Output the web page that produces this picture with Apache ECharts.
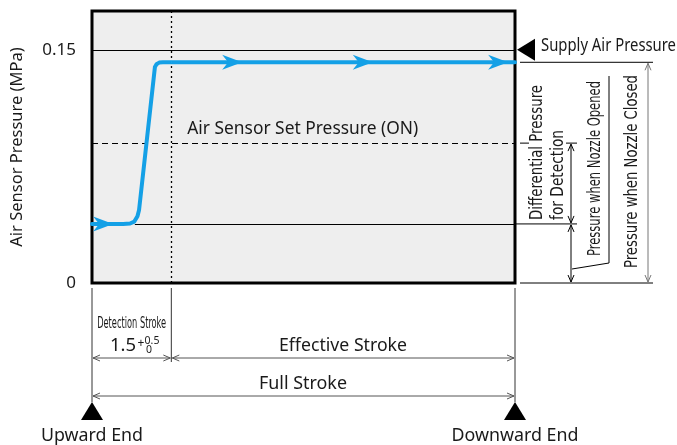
<!DOCTYPE html>
<html>
<head>
<meta charset="utf-8">
<script src="https://cdn.jsdelivr.net/npm/echarts@6/dist/echarts.min.js"></script>
<style>
  html, body { margin: 0; padding: 0; background: #fff; }
  #chart { width: 677px; height: 445px; }
</style>
</head>
<body>
<div id="chart"></div>
<script>
// Piston stroke (mm) and air sensor pressure (MPa) along the travel
const strokeMm    = [0, 0.59, 0.72, 0.80, 0.86, 0.89, 1.19, 1.22, 1.27, 1.34, 8.0];
const pressureMPa = [0.038, 0.038, 0.0383, 0.0395, 0.043, 0.047, 0.139, 0.1408, 0.1418, 0.142, 0.142];

// Flow-direction arrowheads on the curve (tip positions)
const arrowStroke   = [0.40, 2.84, 5.31, 7.87];
const arrowPressure = [0.038, 0.142, 0.142, 0.142];

// Reference levels
const supplyPressure  = 0.15;
const setPressureOn   = 0.09;
const closedPressure  = 0.142;
const openedPressure  = 0.038;
const openedLineStart = 0.81;
const detectionStroke = 1.5;
const fullStroke      = 8;
const pressureMax     = 0.175;

// Axis tick labels
const yTickValues = [0, 0.15];
const yTickLabels = ['0', '0.15'];

const BLUE = '#14a0e6';
const INK = '#1a1a1a';
const DIM = '#555';
const FONT = '"Noto Sans", "Open Sans", sans-serif';
const NARROW = '"Liberation Sans Narrow", "DejaVu Sans Condensed", "Noto Sans", sans-serif';

const chart = echarts.init(document.getElementById('chart'), null, { renderer: 'canvas' });

chart.setOption({
  animation: false,
  grid: {
    left: 92, right: 162, top: 11, bottom: 162,
    show: true, backgroundColor: '#eeeeee', borderColor: '#000', borderWidth: 3
  },
  xAxis: {
    type: 'value', min: 0, max: fullStroke,
    axisLine: { show: false }, axisTick: { show: false },
    axisLabel: { show: false }, splitLine: { show: false }
  },
  yAxis: {
    type: 'value', min: 0, max: pressureMax,
    name: 'Air Sensor Pressure (MPa)', nameLocation: 'middle', nameGap: 66,
    nameTextStyle: { fontFamily: FONT, fontSize: 16.5, color: INK },
    axisLine: { show: false }, axisTick: { show: false }, splitLine: { show: false },
    axisLabel: {
      customValues: yTickValues,
      formatter: v => yTickLabels[yTickValues.indexOf(v)] ?? '',
      fontFamily: FONT, fontSize: 17, color: INK, margin: 16
    }
  },
  series: [
    {
      // reference levels inside the plot
      type: 'line', data: [], z: 1,
      markLine: {
        silent: true, symbol: ['none', 'none'], label: { show: false },
        data: [
          [{ coord: [0, supplyPressure], lineStyle: { color: '#000', width: 1, type: 'solid' } },
           { coord: [fullStroke, supplyPressure] }],
          [{ coord: [0, setPressureOn], lineStyle: { color: '#000', width: 1.2, type: [6, 4] } },
           { coord: [fullStroke, setPressureOn] }],
          [{ coord: [openedLineStart, openedPressure], lineStyle: { color: '#000', width: 1, type: 'solid' } },
           { coord: [fullStroke, openedPressure] }],
          [{ coord: [detectionStroke, 0], lineStyle: { color: '#000', width: 1.3, type: [2, 3] } },
           { coord: [detectionStroke, pressureMax] }]
        ]
      }
    },
    {
      type: 'line', z: 5,
      data: strokeMm.map((x, i) => [x, pressureMPa[i]]),
      showSymbol: false, symbol: 'none',
      lineStyle: { color: BLUE, width: 4, join: 'round', cap: 'round' }
    },
    {
      // swept arrowheads, tip at the data point
      type: 'custom', z: 6,
      data: arrowStroke.map((x, i) => [x, arrowPressure[i]]),
      renderItem: (params, api) => {
        const p = api.coord([api.value(0), api.value(1)]);
        const L = 20, W = 7.5, N = 6;
        return {
          type: 'polygon',
          shape: { points: [[p[0], p[1]], [p[0] - L, p[1] - W], [p[0] - L + N, p[1]], [p[0] - L, p[1] + W]] },
          style: { fill: BLUE }
        };
      }
    }
  ]
});

// Annotations around the plot, positioned through the grid's coordinate system
const P = (x, y) => chart.convertToPixel({ gridIndex: 0 }, [x, y]);
const g = [];
const measureCtx = document.createElement('canvas').getContext('2d');

function seg(pts, color, width, dash) {
  g.push({ type: 'polyline', silent: true, z: 10,
    shape: { points: pts },
    style: { stroke: color || '#000', lineWidth: width || 1, lineDash: dash || null, fill: null } });
}
function head(x, y, dir, color) {
  const L = 7, W = 3;
  let pts;
  if (dir === 'up') pts = [[x - W, y + L], [x, y], [x + W, y + L]];
  else if (dir === 'down') pts = [[x - W, y - L], [x, y], [x + W, y - L]];
  else if (dir === 'left') pts = [[x + L, y - W], [x, y], [x + L, y + W]];
  else pts = [[x - L, y - W], [x, y], [x - L, y + W]];
  seg(pts, color, 1);
}
function dimV(x, y1, y2, color) { seg([[x, y1], [x, y2]], color); head(x, y1, 'up', color); head(x, y2, 'down', color); }
function dimH(y, x1, x2, color) { seg([[x1, y], [x2, y]], color); head(x1, y, 'left', color); head(x2, y, 'right', color); }
function tri(pts) { g.push({ type: 'polygon', silent: true, z: 10, shape: { points: pts }, style: { fill: '#000' } }); }

// text label; when a width is given the glyphs are compressed horizontally to fit it
function label(x, y, text, size, opt) {
  opt = opt || {};
  const family = opt.family || FONT;
  let sx = 1;
  if (opt.width) {
    measureCtx.font = size + 'px ' + family;
    sx = opt.width / measureCtx.measureText(text).width;
  }
  g.push({ type: 'text', silent: true, z: 11, x: x, y: y,
    rotation: opt.rot || 0, scaleX: sx,
    style: { text: text, fontFamily: family, fontSize: size, fill: INK,
      align: opt.align || 'center', verticalAlign: opt.va || 'middle' } });
}

const x0 = P(0, 0)[0];
const xd = P(detectionStroke, 0)[0];
const xf = P(fullStroke, 0)[0];
const y0 = P(0, 0)[1];
const ySup = P(0, supplyPressure)[1];
const ySet = P(0, setPressureOn)[1];
const yClosed = P(0, closedPressure)[1];
const yOpen = P(0, openedPressure)[1];

// set pressure label
label(P(1.8, 0)[0], ySet - 14, 'Air Sensor Set Pressure (ON)', 17.5, { align: 'left', width: 231 });

// supply pressure marker
tri([[xf + 2, ySup], [xf + 20, ySup - 11], [xf + 20, ySup + 11]]);
label(xf + 26, ySup - 4, 'Supply Air Pressure', 17.5, { align: 'left', width: 135 });

// extension lines to the right (the set-pressure one stops short of the rotated text)
seg([[xf + 5, yClosed], [xf + 138, yClosed]], '#000');
seg([[xf + 5, ySet], [xf + 14, ySet]], '#000');
seg([[xf + 51, ySet], [xf + 62, ySet]], '#000');
seg([[xf, yOpen], [xf + 62, yOpen]], '#000');
seg([[xf + 5, y0], [xf + 138, y0]], '#000');

// pressure dimensions
const xDiff = xf + 56;
dimV(xDiff, ySet + 1, yOpen - 1, '#000');
dimV(xDiff, yOpen + 1, y0 - 1, '#000');
dimV(xf + 133, yClosed + 1, y0 - 1, '#777');
seg([[xDiff + 1, y0 - 14], [xf + 94, y0 - 20], [xf + 94, 76]], '#000');

const rot = Math.PI / 2;
label(xf + 23, yOpen - 4, 'Differential Pressure', 17, { rot, align: 'left', family: NARROW, width: 135 });
label(xf + 44, yOpen - 4, 'for Detection', 17, { rot, align: 'left', family: NARROW, width: 90 });
label(xf + 80, y0 - 27, 'Pressure when Nozzle Opened', 17.5, { rot, align: 'left', family: NARROW, width: 175 });
label(xf + 117, y0 - 15, 'Pressure when Nozzle Closed', 17.5, { rot, align: 'left', family: NARROW, width: 193 });

// stroke extension lines and dimensions below
seg([[x0, y0 + 5], [x0, y0 + 119]], '#333');
seg([[xd, y0 + 5], [xd, y0 + 79]], '#333');
seg([[xf, y0 + 5], [xf, y0 + 119]], '#333');
dimH(y0 + 75, x0 + 1, xd - 1, DIM);
dimH(y0 + 75, xd + 1, xf - 1, DIM);
dimH(y0 + 113, x0 + 1, xf - 1, DIM);

tri([[x0, y0 + 119], [x0 - 11, y0 + 137], [x0 + 11, y0 + 137]]);
tri([[xf, y0 + 119], [xf - 11, y0 + 137], [xf + 11, y0 + 137]]);

label((x0 + xd) / 2, y0 + 41, 'Detection Stroke', 15, { family: NARROW, width: 69 });
label(136, y0 + 63, '1.5', 18.5, { align: 'right' });
label(141, y0 + 61, '+', 12);
label(152, y0 + 58, '0.5', 10.5);
label(149, y0 + 67, '0', 10.5);
label(343, y0 + 63, 'Effective Stroke', 17.5, { width: 128 });
label(303, y0 + 101, 'Full Stroke', 17.5, { width: 88 });
label(x0, y0 + 153, 'Upward End', 17.5, { width: 102 });
label(xf, y0 + 153, 'Downward End', 17.5, { width: 127 });

chart.setOption({ graphic: g });
</script>
</body>
</html>
